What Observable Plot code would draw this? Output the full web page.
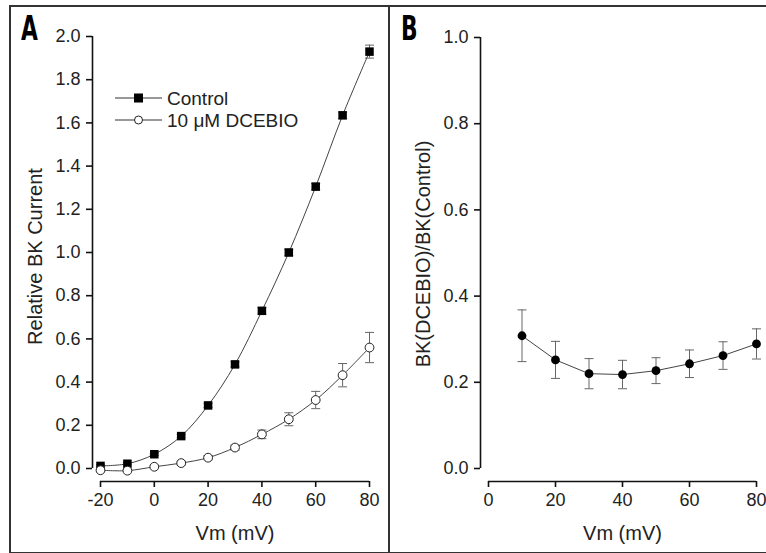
<!DOCTYPE html>
<html>
<head>
<meta charset="utf-8">
<script src="https://cdn.jsdelivr.net/npm/d3@7"></script>
<script src="https://cdn.jsdelivr.net/npm/@observablehq/plot@0.6"></script>
<style>
  html, body { margin: 0; padding: 0; background: #fff; }
  #wrap { position: relative; width: 766px; height: 553px; overflow: hidden; background: #fff;
          font-family: "Liberation Sans", Arial, Helvetica, sans-serif; color: #222; }
  #border { position: absolute; left: 9px; top: 5px; width: 780px; height: 545px;
            border: 2px solid #333; box-sizing: content-box; }
  #divider { position: absolute; left: 388px; top: 5px; width: 2px; height: 548px; background: #333; }
  .panel { position: absolute; top: 0; }
  .plab { position: absolute; top: 12px; font-family: "DejaVu Sans", sans-serif; font-weight: bold;
          font-size: 33px; color: #000; transform: scaleX(0.66); transform-origin: left top; line-height: 1; }
  #legend { position: absolute; left: 112px; top: 86px; }
</style>
</head>
<body>
<div id="wrap">
  <div id="border"></div>
  <div id="divider"></div>
  <div id="panelA" class="panel" style="left:0px"></div>
  <div id="panelB" class="panel" style="left:390px"></div>
  <div class="plab" style="left:21px">A</div>
  <div class="plab" style="left:401px">B</div>
  <div id="legend"></div>
</div>
<script>
// ---- data ----
const vm = [-20, -10, 0, 10, 20, 30, 40, 50, 60, 70, 80];
const control = [0.012, 0.022, 0.066, 0.15, 0.292, 0.482, 0.73, 1.0, 1.305, 1.635, 1.93];
const controlErr = [0.005, 0.005, 0.005, 0.008, 0.01, 0.012, 0.015, 0.015, 0.015, 0.015, 0.03];
const dcebio = [-0.008, -0.01, 0.008, 0.025, 0.05, 0.097, 0.158, 0.228, 0.317, 0.432, 0.56];
const dcebioErr = [0.005, 0.005, 0.006, 0.008, 0.01, 0.012, 0.02, 0.03, 0.04, 0.054, 0.07];
const vmRatio = [10, 20, 30, 40, 50, 60, 70, 80];
const ratio = [0.308, 0.252, 0.22, 0.218, 0.227, 0.243, 0.262, 0.289];
const ratioErr = [0.06, 0.043, 0.035, 0.033, 0.03, 0.032, 0.032, 0.035];

const xTicksA = [-20, 0, 20, 40, 60, 80];
const yTicksA = [0, 0.2, 0.4, 0.6, 0.8, 1.0, 1.2, 1.4, 1.6, 1.8, 2.0];
const xTicksB = [0, 20, 40, 60, 80];
const yTicksB = [0, 0.2, 0.4, 0.6, 0.8, 1.0];
const seriesNames = ["Control", "10 \u03BCM DCEBIO"];

const ctrlRows = vm.map((x, i) => ({x, y: control[i], e: controlErr[i]}));
const dceRows = vm.map((x, i) => ({x, y: dcebio[i], e: dcebioErr[i]}));
const ratioRows = vmRatio.map((x, i) => ({x, y: ratio[i], e: ratioErr[i]}));

const cap = {draw(ctx, size) { const r = Math.sqrt(size / Math.PI); ctx.moveTo(-r, 0); ctx.lineTo(r, 0); }};

function errMarks(rows) {
  return [
    Plot.ruleX(rows, {x: "x", y1: d => d.y - d.e, y2: d => d.y + d.e, stroke: "#666", strokeWidth: 1}),
    Plot.dot(rows, {x: "x", y: d => d.y + d.e, symbol: cap, r: 4.5, stroke: "#666", strokeWidth: 1, fill: "none"}),
    Plot.dot(rows, {x: "x", y: d => d.y - d.e, symbol: cap, r: 4.5, stroke: "#666", strokeWidth: 1, fill: "none"})
  ];
}

function frameMarks(xDomain, yDomain, xTicks, yTicks, xTitle, yTitle, yTitleDy) {
  return [
    Plot.ruleX([xDomain[0]], {y1: yDomain[0], y2: yDomain[1], dx: -8, stroke: "#111", strokeWidth: 1.6}),
    Plot.ruleY([yDomain[0]], {x1: xDomain[0], x2: xDomain[1], dy: 13, stroke: "#111", strokeWidth: 1.6}),
    Plot.axisY({ticks: yTicks, tickSize: 6, tickPadding: 6, dx: -8, tickFormat: d3.format(".1f"),
                label: null, fontSize: 18, strokeWidth: 1.6, stroke: "#111", fill: "#222"}),
    Plot.axisX({ticks: xTicks, tickSize: 6, tickPadding: 6, dy: 13, tickFormat: d => String(d),
                label: null, fontSize: 18, strokeWidth: 1.6, stroke: "#111", fill: "#222"}),
    Plot.text([xTitle], {text: d => d, frameAnchor: "bottom", lineAnchor: "middle", textAnchor: "middle",
                dy: 65, fontSize: 20, fill: "#222"}),
    Plot.text([yTitle], {text: d => d, frameAnchor: "left", textAnchor: "middle", lineAnchor: "middle",
                rotate: -90, dx: -65, dy: yTitleDy, fontSize: 20, fill: "#222"})
  ];
}

const styleObj = {fontFamily: "'Liberation Sans', Arial, Helvetica, sans-serif", background: "transparent", overflow: "visible", color: "#222"};

const plotA = Plot.plot({
  width: 390, height: 553,
  marginLeft: 100, marginRight: 21, marginTop: 36, marginBottom: 85,
  x: {domain: [-20, 80]},
  y: {domain: [0, 2]},
  style: styleObj,
  marks: [
    ...frameMarks([-20, 80], [0, 2], xTicksA, yTicksA, "Vm (mV)", "Relative BK Current", 4),
    ...errMarks(ctrlRows),
    ...errMarks(dceRows),
    Plot.line(ctrlRows, {x: "x", y: "y", curve: "catmull-rom", stroke: "#444", strokeWidth: 1}),
    Plot.line(dceRows, {x: "x", y: "y", curve: "catmull-rom", stroke: "#444", strokeWidth: 1}),
    Plot.dot(ctrlRows, {x: "x", y: "y", symbol: "square", r: 4.8, fill: "#000", stroke: "none"}),
    Plot.dot(dceRows, {x: "x", y: "y", symbol: "circle", r: 4.4, fill: "#fff", stroke: "#222", strokeWidth: 1})
  ]
});
document.getElementById("panelA").appendChild(plotA);

const plotB = Plot.plot({
  width: 376, height: 553,
  marginLeft: 98, marginRight: 10, marginTop: 37, marginBottom: 85,
  x: {domain: [0, 80]},
  y: {domain: [0, 1]},
  style: styleObj,
  marks: [
    ...frameMarks([0, 80], [0, 1], xTicksB, yTicksB, "Vm (mV)", "BK(DCEBIO)/BK(Control)", 1),
    ...errMarks(ratioRows),
    Plot.line(ratioRows, {x: "x", y: "y", stroke: "#444", strokeWidth: 1}),
    Plot.dot(ratioRows, {x: "x", y: "y", r: 4.4, fill: "#000", stroke: "none"})
  ]
});
document.getElementById("panelB").appendChild(plotB);

// ---- legend ----
const lg = d3.select("#legend").append("svg").attr("width", 220).attr("height", 50)
  .style("font-family", "'Liberation Sans', Arial, sans-serif").style("overflow", "visible");
const rowsL = lg.selectAll("g").data(seriesNames).join("g")
  .attr("transform", (d, i) => `translate(0,${12 + i * 22})`);
rowsL.append("line").attr("x1", 3).attr("x2", 50).attr("y1", 0).attr("y2", 0).attr("stroke", "#333").attr("stroke-width", 1.2);
rowsL.filter((d, i) => i === 0).append("rect").attr("x", 22).attr("y", -4.5).attr("width", 9).attr("height", 9).attr("fill", "#000");
rowsL.filter((d, i) => i === 1).append("circle").attr("cx", 26.5).attr("cy", 0).attr("r", 4).attr("fill", "#fff").attr("stroke", "#222");
rowsL.append("text").attr("x", 55).attr("y", 0).attr("dy", "0.35em").attr("font-size", 19).attr("fill", "#222").text(d => d);
</script>
</body>
</html>
